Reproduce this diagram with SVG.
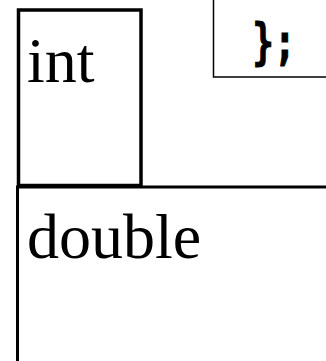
<svg xmlns="http://www.w3.org/2000/svg" width="326" height="361" viewBox="0 0 326 361">
<style>
.box{fill:#fff;stroke:#000}
.serif{font-family:"Liberation Serif","Times New Roman",serif;font-size:64px;fill:#000}
.code{font-family:"DejaVu Sans Mono",monospace;font-weight:bold;font-size:50px;fill:#000;stroke:#000;stroke-width:1}
</style>
<g id="end">
<rect class="box" x="213.5" y="-10" width="130" height="87" stroke-width="1.5"/>
<text class="code" x="274" y="59" text-anchor="middle" transform="translate(274 0) scale(0.72 1) translate(-274 0)">};</text>
</g>
<g id="int">
<rect class="box" x="18.5" y="10" width="122.5" height="175.5" stroke-width="3.5"/>
<text class="serif" x="27" y="82">int</text>
</g>
<g id="double">
<rect class="box" x="17.5" y="187" width="330" height="200" stroke-width="3"/>
<text class="serif" x="27" y="258">double</text>
</g>
<g id="connectors"/>
</svg>
